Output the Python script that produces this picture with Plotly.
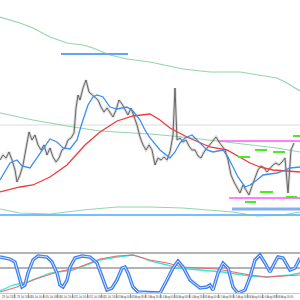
import plotly.graph_objects as go

# ---------------- data ----------------
price_x = [0, 1.5, 3, 4.5, 6, 7.5, 8.5, 10, 11.5, 13,
           14.5, 16, 17.5, 19, 20.5, 22, 23.5, 25, 26.5, 28,
           29.5, 31, 32.5, 34, 35.5, 37, 38, 39, 40, 41.5,
           43, 44.5, 46, 47.5, 49, 50.5, 52, 53.5, 55, 56.5,
           58, 59.5, 61, 62.5, 64, 65.5, 67, 68.5, 70, 71.5,
           73, 74.5, 76, 77.5, 79, 80.5, 82, 83.5, 85, 86.5,
           87.5, 88.5, 90, 91.5, 93, 94.5, 96, 97.5, 99, 100.5,
           102, 103.5, 105, 106.5, 108, 109.5, 111, 112.5, 114, 115.5,
           117, 118.5, 120, 121.5, 123, 124.5, 126, 127.5, 129, 130.5,
           132, 133.5, 135, 136.5, 138, 139.5, 141, 142.5, 144, 145.5,
           147]
price = [1.0940, 1.0945, 1.0942, 1.0948, 1.0940, 1.0930, 1.0918, 1.0925, 1.0935, 1.0950,
         1.0968, 1.0960, 1.0965, 1.0955, 1.0950, 1.0955, 1.0945, 1.0952, 1.0943, 1.0938,
         1.0942, 1.0950, 1.0952, 1.0960, 1.0962, 1.0967, 1.0992, 1.1005, 1.1000, 1.1012,
         1.1020, 1.1008, 1.1005, 1.1002, 1.1000, 1.0993, 1.0988, 1.0992, 1.0988, 1.0983,
         1.0990, 1.1000, 1.0996, 1.0990, 1.0985, 1.0992, 1.0984, 1.0975, 1.0963, 1.0955,
         1.0950, 1.0955, 1.0950, 1.0935, 1.0942, 1.0940, 1.0943, 1.0940, 1.0948, 1.0965,
         1.1012, 1.0960, 1.0962, 1.0958, 1.0960, 1.0954, 1.0950, 1.0950, 1.0944, 1.0942,
         1.0948, 1.0952, 1.0955, 1.0960, 1.0963, 1.0958, 1.0954, 1.0950, 1.0940, 1.0925,
         1.0918, 1.0912, 1.0907, 1.0915, 1.0910, 1.0905, 1.0914, 1.0922, 1.0930, 1.0934,
         1.0932, 1.0928, 1.0932, 1.0935, 1.0937, 1.0935, 1.0938, 1.0942, 1.0907, 1.0950,
         1.0957]

fast_x = [0, 5, 8.5, 11, 15, 20, 25, 28.5, 31.5, 35, 38.5, 41, 44, 46.5, 48.5, 51.5, 55,
          58.5, 63.5, 66.5, 70, 72.5, 75, 80, 85, 87.5, 90, 92.5, 96, 100, 103.5, 106.5,
          111.5, 114, 116, 119, 122.5, 125, 128.5, 131.5, 135, 138.5, 141.5, 145, 150]
fast_ma = [1.0920, 1.0937, 1.0940, 1.0934, 1.0932, 1.0947, 1.0961, 1.0958, 1.0952, 1.0951,
           1.0960, 1.0977, 1.0995, 1.1003, 1.1005, 1.1003, 1.0993, 1.0991, 1.0993, 1.0989,
           1.0980, 1.0970, 1.0962, 1.0950, 1.0942, 1.0948, 1.0957, 1.0962, 1.0965, 1.0957,
           1.0950, 1.0948, 1.0950, 1.0943, 1.0935, 1.0923, 1.0913, 1.0915, 1.0920, 1.0925,
           1.0926, 1.0927, 1.0929, 1.0932, 1.0933]

slow_x = [0, 10, 16.5, 25, 33.5, 42.5, 50, 58.5, 66.5, 75, 80, 85, 93.5, 100, 105, 113.5,
          120, 125, 130, 136.5, 143.5, 150]
slow_ma = [1.0908, 1.0913, 1.0915, 1.0923, 1.0935, 1.0955, 1.0968, 1.0979, 1.0984, 1.0986,
           1.0980, 1.0972, 1.0963, 1.0957, 1.0953, 1.0950, 1.0943, 1.0937, 1.0933, 1.0930,
           1.0929, 1.0928]

env_up_x = [0, 10, 16.5, 25, 33.5, 41.5, 46.5, 55, 63.5, 75, 91.5, 105, 120, 130, 138.5, 143.5, 150]
env_up = [1.1083, 1.1077, 1.1072, 1.1063, 1.1057, 1.1055, 1.1052, 1.1045, 1.1041, 1.1038,
          1.1031, 1.1028, 1.1028, 1.1025, 1.1022, 1.1017, 1.1009]
env_mid_x = [0, 16.5, 33.5, 50, 66.5, 75, 91.5, 108.5, 125, 138.5, 150]
env_mid = [1.0987, 1.0980, 1.0974, 1.0969, 1.0967, 1.0966, 1.0963, 1.0959, 1.0955, 1.0952, 1.0948]
env_low_x = [0, 10, 25, 41.5, 58.5, 75, 91.5, 116.5, 128.5, 141.5, 150]
env_low = [1.0891, 1.0887, 1.0886, 1.0890, 1.0893, 1.0893, 1.0892, 1.0888, 1.0884, 1.0885, 1.0888]

ref_level = 1.0975
support_level = 1.0885
band_level, band_start = 1.0891, 116
range_top, range_top_start = 1.0959, 109
range_bot, range_bot_start = 1.0902, 114.5
old_level, old_start, old_end = 1.1046, 30.5, 64

dash_start = [146.5, 127.5, 136.5, 119, 130, 122.5, 143]
dash_end = [150, 133.5, 142.5, 125, 136.5, 128, 148.5]
dash_level = [1.0964, 1.0950, 1.0948, 1.0943, 1.0908, 1.0898, 1.0903]

osc_x = [0, 5, 7.5, 9, 11, 12.5, 14, 16.5, 19, 23.5, 26, 28.5, 30, 31.5, 33.5, 35, 37.5,
         41, 45, 48.5, 51, 53.5, 56, 58.5, 61, 62.5, 64, 66.5, 69, 75, 80, 83.5, 86.5,
         89, 91.5, 95, 100, 103.5, 105, 106.5, 109, 111.5, 114, 116.5, 119, 122.5, 125,
         127.5, 130, 132.5, 135, 137.5, 139, 141.5, 145, 147.5, 150]
osc_main = [72, 68, 62, 40, 12, 16, 40, 66, 74, 72, 62, 40, 16, 12, 26, 52, 70,
            74, 72, 60, 32, 6, 10, 26, 50, 52, 40, 12, 2, 0, 0, 26, 50,
            64, 52, 26, 10, 12, 16, 6, 40, 60, 50, 12, 0, 6, 32,
            66, 76, 60, 42, 62, 72, 70, 46, 50, 70]
sig_x = [0, 6.5, 13.5, 25, 36.5, 50, 58.5, 66.5, 70, 75, 83.5, 88.5, 100, 111.5, 125, 133.5, 145, 150]
sig_cyan = [4, 16, 22, 40, 46, 66, 72, 76, 72, 64, 56, 50, 46, 42, 34, 32, 36, 40]
sig2_x = [0, 8.5, 16.5, 28.5, 38.5, 50, 58.5, 66.5, 71.5, 75, 83.5, 91.5, 108.5, 116.5, 125, 133.5, 145, 150]
sig_red = [2, 12, 26, 42, 50, 68, 74, 76, 70, 66, 60, 52, 48, 42, 36, 32, 34, 36]
osc_levels = [80, 50]

label_pos = [0.5 + 7.3 * i for i in range(20)]
tick_pos = [p - 0.75 for p in label_pos[1:]]
tick_labels = ["29 Jul 2015", "29 Jul 16:00", "30 Jul 00:00", "30 Jul 08:00", "30 Jul 16:00",
               "31 Jul 00:00", "31 Jul 08:00", "31 Jul 16:00", "3 Aug 00:00", "3 Aug 08:00",
               "3 Aug 16:00", "4 Aug 00:00", "4 Aug 08:00", "4 Aug 16:00", "5 Aug 00:00",
               "5 Aug 08:00", "5 Aug 16:00", "6 Aug 00:00", "6 Aug 08:00", "6 Aug 16:00"]

X0, X1 = 0, 150

# ---------------- figure ----------------
fig = go.Figure()

def line(x, y, color, width, yaxis="y"):
    fig.add_trace(go.Scatter(x=x, y=y, mode="lines", yaxis=yaxis, hoverinfo="skip",
                             line=dict(color=color, width=width)))

line([X0, X1], [ref_level, ref_level], "rgba(205,205,205,0.7)", 1)
line([X0, X1], [support_level, support_level], "#4aa8ff", 1.5)
line([band_start, X1], [band_level, band_level], "rgba(90,150,240,0.75)", 3)
line([range_top_start, X1], [range_top, range_top], "#ff55ff", 1.5)
line([range_bot_start, X1], [range_bot, range_bot], "#ff55ff", 1.5)
line([old_start, old_end], [old_level, old_level], "#2e86f5", 1.6)

for ex, ey in [(env_up_x, env_up), (env_mid_x, env_mid), (env_low_x, env_low)]:
    line(ex, ey, "rgba(110,200,140,0.75)", 1.2)

line(price_x, price, "rgba(160,160,160,0.4)", 2.8)
line(price_x, price, "#4a4a4a", 0.8)

line(slow_x, slow_ma, "#f03a3a", 1.3)
line(fast_x, fast_ma, "#3a8ef5", 1.3)

dx, dy = [], []
for s, e, v in zip(dash_start, dash_end, dash_level):
    dx += [s, e, None]
    dy += [v, v, None]
line(dx, dy, "#44ee22", 2)

for lv in osc_levels:
    line([X0, X1], [lv, lv], "#9a9a9a", 1.3, yaxis="y2")
line(sig_x, sig_cyan, "#33e6e6", 1.3, yaxis="y2")
line(sig2_x, sig_red, "#f06a6a", 1.1, yaxis="y2")
line(osc_x, osc_main, "#3f7ff0", 3.4, yaxis="y2")
line(osc_x, osc_main, "#d6e4ff", 1.0, yaxis="y2")

for lp, lt in zip(label_pos, tick_labels):
    fig.add_annotation(x=lp, y=0, xref="x", yref="paper", text=lt,
                       showarrow=False, xanchor="left",
                       yanchor="bottom", borderpad=0,
                       font=dict(family="Liberation Sans Narrow, Liberation Sans", size=2.7,
                                 color="#444"))

fig.update_layout(
    width=300, height=300, margin=dict(l=0, r=0, t=0, b=0),
    paper_bgcolor="white", plot_bgcolor="white", showlegend=False,
    xaxis=dict(range=[X0, X1], anchor="y2", showgrid=False, zeroline=False,
               showticklabels=False, ticks="outside", ticklen=4, tickcolor="#aaa",
               tickvals=tick_pos, showline=True, linecolor="#c8c8c8", linewidth=1,
               automargin=False),
    yaxis=dict(domain=[0.2667, 1], range=[1.0880, 1.1100], visible=False),
    yaxis2=dict(domain=[0.0233, 0.19], range=[0, 100], visible=False),
)

fig.write_html("out.html")
